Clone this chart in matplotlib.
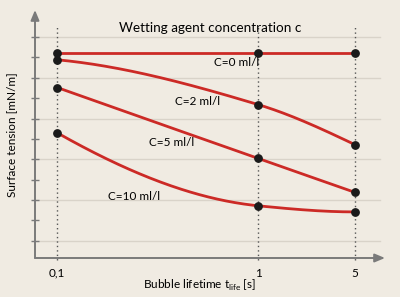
import matplotlib
matplotlib.use("Agg")
import matplotlib.pyplot as plt
import numpy as np

# bubble lifetimes (s) and their tick labels
lifetimes = ["0,1", "1", "5"]
x_pos = [0.0, 1.0, 1.48]   # horizontal placement of the three lifetimes

# surface tension (mN/m) per wetting agent concentration
conc_labels = ["C=0 ml/l", "C=2 ml/l", "C=5 ml/l", "C=10 ml/l"]
c0 = [76.1, 76.1, 76.1]
c2 = [74.4, 63.4, 53.6]
c5 = [67.6, 50.2, 41.9]
c10 = [56.5, 38.6, 37.1]

bg = "#f0ebe2"
red = "#cc2a26"
axis_grey = "#7a7a7a"
grid_grey = "#d9d3c9"

plt.rcParams["font.family"] = ["Lato", "DejaVu Sans"]


def smooth(x, y, n=200):
    # monotone cubic (Fritsch-Carlson) through the points
    x = np.asarray(x, float)
    y = np.asarray(y, float)
    h = np.diff(x)
    d = np.diff(y) / h
    m = np.zeros_like(y)
    for i in range(1, len(x) - 1):
        if d[i - 1] * d[i] > 0:
            w1 = 2 * h[i] + h[i - 1]
            w2 = h[i] + 2 * h[i - 1]
            m[i] = (w1 + w2) / (w1 / d[i - 1] + w2 / d[i])
    m[0] = ((2 * h[0] + h[1]) * d[0] - h[0] * d[1]) / (h[0] + h[1])
    if np.sign(m[0]) != np.sign(d[0]):
        m[0] = 0
    m[-1] = ((2 * h[-1] + h[-2]) * d[-1] - h[-1] * d[-2]) / (h[-1] + h[-2])
    if np.sign(m[-1]) != np.sign(d[-1]):
        m[-1] = 0
    xs = np.linspace(x[0], x[-1], n)
    k = np.clip(np.searchsorted(x, xs) - 1, 0, len(x) - 2)
    t = (xs - x[k]) / h[k]
    h00 = 2 * t**3 - 3 * t**2 + 1
    h10 = t**3 - 2 * t**2 + t
    h01 = -2 * t**3 + 3 * t**2
    h11 = t**3 - t**2
    ys = h00 * y[k] + h10 * h[k] * m[k] + h01 * y[k + 1] + h11 * h[k] * m[k + 1]
    return xs, ys


fig = plt.figure(figsize=(4.0, 2.97), dpi=100, facecolor=bg)
ax = fig.add_axes([35 / 400, 39 / 297, 350 / 400, 248 / 297])
ax.set_facecolor(bg)

xmin, xmax = -0.11, 1.63
ymin, ymax = 25.8, 86.6
ax.set_xlim(xmin, xmax)
ax.set_ylim(ymin, ymax)

# light horizontal grid
for gy in np.arange(30, 81, 10):
    ax.plot([xmin, 1.605], [gy, gy], color=grid_grey, lw=1.0, zorder=1)

# dotted verticals at the measured lifetimes
for xp in x_pos:
    ax.plot([xp, xp], [ymin - 0.5, 82.5], color="#555555", lw=1.0,
            linestyle=(0, (1, 2.2)), zorder=2, clip_on=False)

# curves through the measured points
for vals in [c0, c2, c5, c10]:
    xs, ys = smooth(x_pos, vals)
    ax.plot(xs, ys, color=red, lw=2.0, zorder=3, solid_capstyle="round")
    ax.scatter(x_pos, vals, s=28, color="#1a1a1a", zorder=4)

# curve labels
ax.text(0.89, 73.7, conc_labels[0], fontsize=8.5, ha="center", va="center")
ax.text(0.70, 64.2, conc_labels[1], fontsize=8.5, ha="center", va="center")
ax.text(0.57, 54.1, conc_labels[2], fontsize=8.5, ha="center", va="center")
ax.text(0.38, 40.8, conc_labels[3], fontsize=8.5, ha="center", va="center")

# axes: only left and bottom, with arrows
for s in ["top", "right", "left", "bottom"]:
    ax.spines[s].set_visible(False)
ax.annotate("", xy=(xmin, ymax), xytext=(xmin, ymin),
            arrowprops=dict(arrowstyle="-|>,head_length=0.6,head_width=0.25",
                            color=axis_grey, lw=1.4, shrinkA=0, shrinkB=0))
ax.annotate("", xy=(xmax, ymin), xytext=(xmin, ymin),
            arrowprops=dict(arrowstyle="-|>,head_length=0.6,head_width=0.25",
                            color=axis_grey, lw=1.4, shrinkA=0, shrinkB=0))

# y ticks (no labels) crossing the axis
ax.set_yticks(np.arange(30, 81, 5))
ax.tick_params(axis="y", direction="inout", length=6, width=1.0,
               color=axis_grey, labelleft=False)
ax.set_xticks(x_pos)
ax.set_xticklabels(lifetimes, fontsize=8.5)
ax.tick_params(axis="x", length=0, pad=7)

ax.set_title("Wetting agent concentration c", fontsize=9.7, pad=-16, y=1.0)
fig.text(0.5, 1 - 285 / 297, r"Bubble lifetime t$_{\mathregular{life}}$ [s]",
         fontsize=8.5, ha="center", va="center")
fig.text(12 / 400, 1 - 135 / 297, "Surface tension [mN/m]", fontsize=8.5,
         ha="center", va="center", rotation=90)

fig.savefig("out.png", dpi=100, facecolor=bg)
